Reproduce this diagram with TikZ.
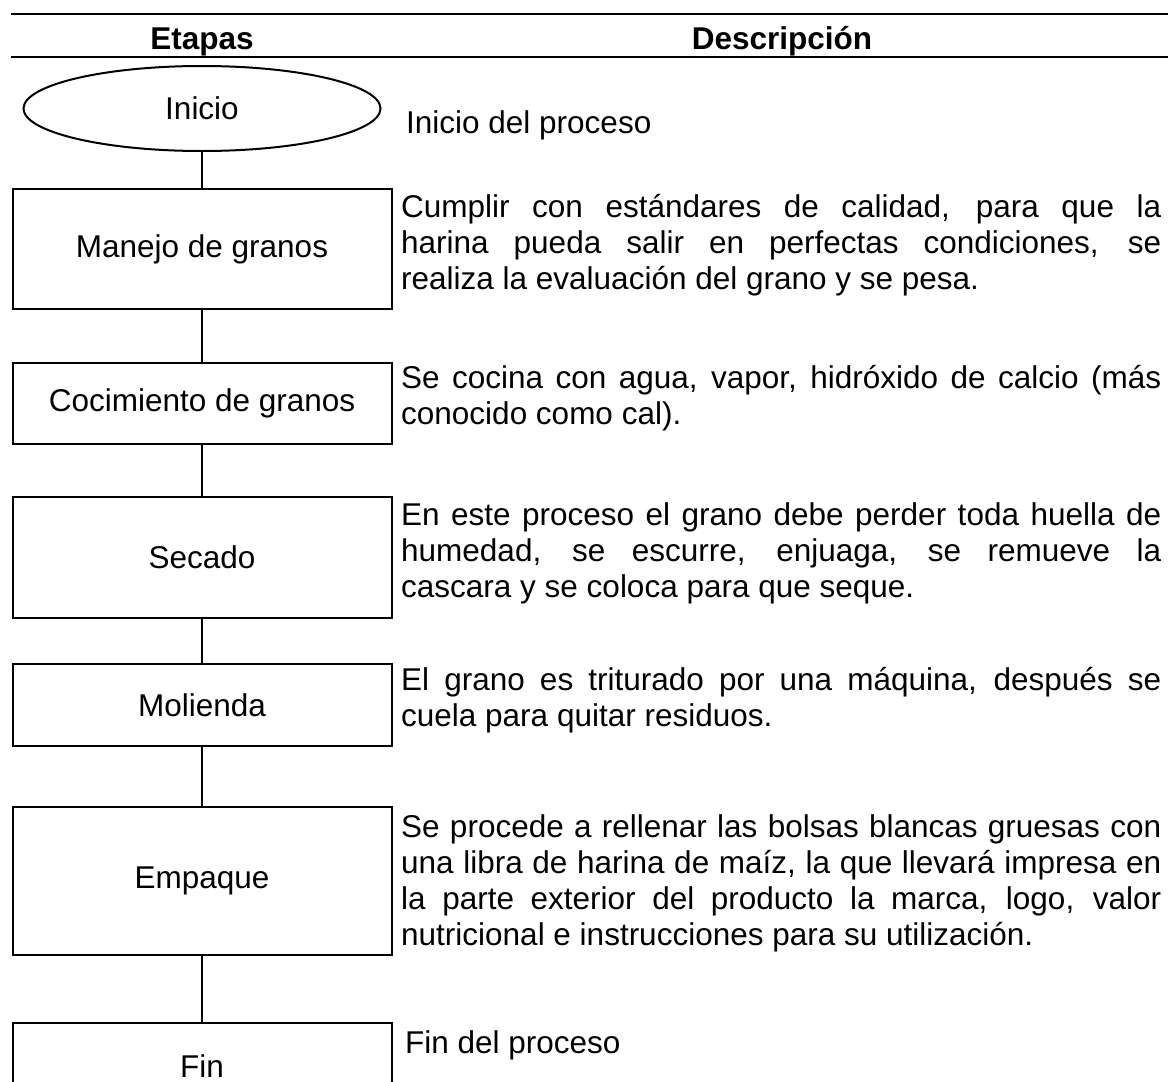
\documentclass[tikz,border=0pt]{standalone}
\usepackage{fontspec}
\setmainfont{Liberation Sans}
\usetikzlibrary{shapes.geometric}
\newcommand{\jl}[1]{\makebox[760pt][s]{#1}}
\newcommand{\desctext}[1]{\parbox[t]{760pt}{\fontsize{31.5}{36}\selectfont #1}}
\begin{document}
\begin{tikzpicture}[x=1pt,y=-1pt,
  stepbox/.style={draw, line width=2pt, minimum width=379pt, inner sep=0pt, font=\fontsize{31.5}{36}\selectfont},
  startshape/.style={draw, ellipse, line width=2pt, minimum width=357pt, minimum height=85pt, inner sep=0pt, font=\fontsize{31.5}{36}\selectfont},
  conn/.style={line width=1.8pt},
  rule/.style={line width=2.2pt},
  headtext/.style={font=\fontsize{31.5}{36}\selectfont\bfseries, inner sep=0pt, anchor=base},
  desc/.style={inner sep=0pt, anchor=base west},
  plaintext/.style={inner sep=0pt, anchor=base west, font=\fontsize{31.5}{36}\selectfont}]
\useasboundingbox (0,0) rectangle (1168,1082);
\clip (0,0) rectangle (1168,1082);
\fill[white] (0,0) rectangle (1168,1082);

% header
\coordinate (r1a) at (11,14); \coordinate (r1b) at (1168,14);
\coordinate (r2a) at (11,57); \coordinate (r2b) at (1168,57);
\draw[rule] (r1a) -- (r1b);
\draw[rule] (r2a) -- (r2b);
\node[headtext] (h1) at (202,49) {Etapas};
\node[headtext] (h2) at (782,49) {Descripción};

% stages
\node[startshape] (ini) at (202,108.5) {Inicio};
\node[stepbox, minimum height=120pt] (man) at (202,249) {Manejo de granos};
\node[stepbox, minimum height=81pt] (coc) at (202,403.5) {Cocimiento de granos};
\node[stepbox, minimum height=121pt] (sec) at (202,557.5) {Secado};
\node[stepbox, minimum height=82pt] (mol) at (202,705) {Molienda};
\node[stepbox, minimum height=148pt] (emp) at (202,881) {Empaque};
\node[stepbox, minimum height=86pt] (fin) at (202,1066) {Fin};

\draw[conn] (ini.south) -- (man.north);
\draw[conn] (man.south) -- (coc.north);
\draw[conn] (coc.south) -- (sec.north);
\draw[conn] (sec.south) -- (mol.north);
\draw[conn] (mol.south) -- (emp.north);
\draw[conn] (emp.south) -- (fin.north);

% descriptions
\node[plaintext] (d0) at (406,133) {Inicio del proceso};
\node[desc] (d1) at (401,217) {\desctext{%
\jl{Cumplir con estándares de calidad, para que la}\\
\jl{harina pueda salir en perfectas condiciones, se}\\
realiza la evaluación del grano y se pesa.}};
\node[desc] (d2) at (401,388) {\desctext{%
\jl{Se cocina con agua, vapor, hidróxido de calcio (más}\\
conocido como cal).}};
\node[desc] (d3) at (401,525) {\desctext{%
\jl{En este proceso el grano debe perder toda huella de}\\
\jl{humedad, se escurre, enjuaga, se remueve la}\\
cascara y se coloca para que seque.}};
\node[desc] (d4) at (401,690) {\desctext{%
\jl{El grano es triturado por una máquina, después se}\\
cuela para quitar residuos.}};
\node[desc] (d5) at (401,837) {\desctext{%
\jl{Se procede a rellenar las bolsas blancas gruesas con}\\
\jl{una libra de harina de maíz, la que llevará impresa en}\\
\jl{la parte exterior del producto la marca, logo, valor}\\
nutricional e instrucciones para su utilización.}};
\node[plaintext] (d6) at (405,1053) {Fin del proceso};
\end{tikzpicture}
\end{document}
